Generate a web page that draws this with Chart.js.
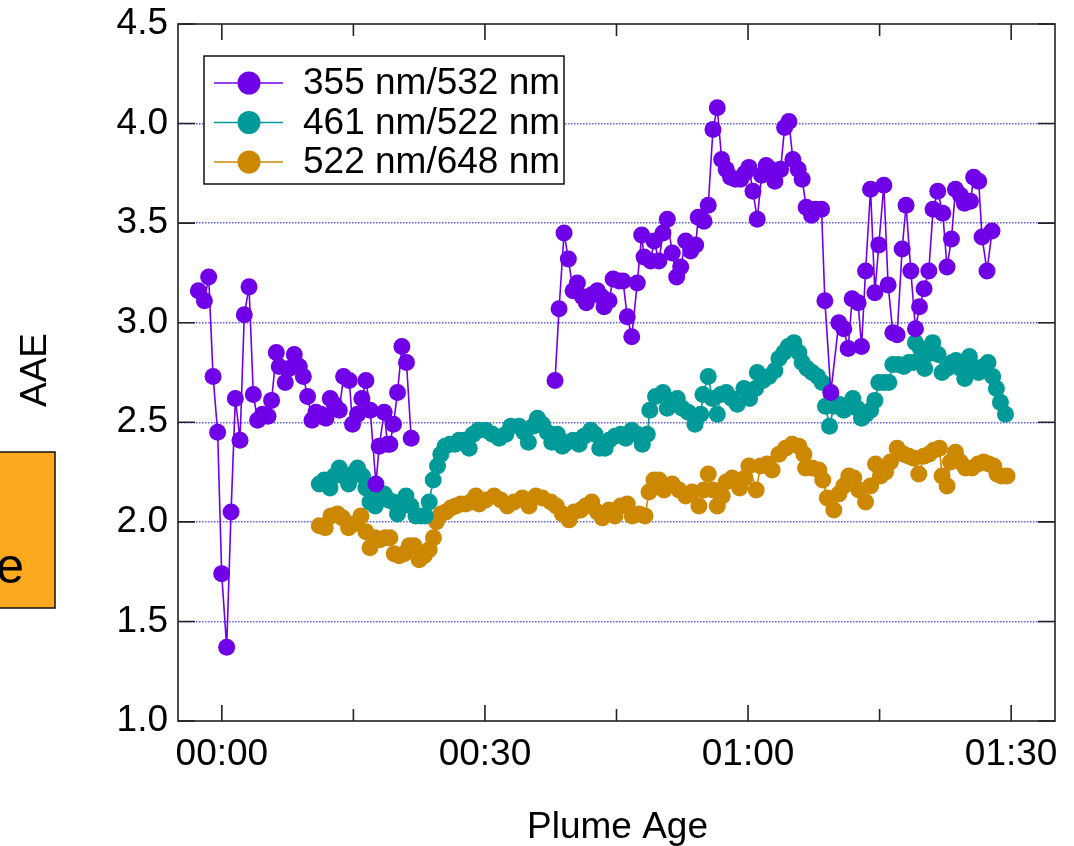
<!DOCTYPE html>
<html>
<head>
<meta charset="utf-8">
<title>AAE vs plume age</title>
<script src="https://cdn.jsdelivr.net/npm/chart.js@4.4.0/dist/chart.umd.min.js"></script>
<style>
  html, body { margin: 0; padding: 0; background: #fff; }
  #wrap { position: relative; width: 1074px; height: 846px; }
</style>
</head>
<body>
<div id="wrap"><canvas id="aaeChart" width="1074" height="846"></canvas></div>
<script>
// plume age in minutes, AAE per wavelength pair
const t355 = [-2.68,-1.99,-1.50,-1.00,-0.48,-0.02,0.55,1.05,1.54,2.07,2.56,3.10,3.59,4.08,4.65,5.26,5.67,6.21,6.55,7.23,
  7.69,8.26,8.83,9.29,9.78,10.28,10.73,11.30,11.87,12.36,12.82,13.39,13.88,14.53,14.90,15.47,15.97,16.43,16.92,17.57,
  17.94,18.51,18.89,19.16,19.57,20.03,20.53,21.05,21.59,
  37.99,38.45,39.02,39.51,40.05,40.54,41.11,41.56,42.18,42.82,43.32,43.58,44.15,44.61,45.29,45.74,46.23,46.74,47.37,47.87,
  48.14,48.90,49.28,49.84,50.30,50.79,51.36,51.86,52.32,52.89,53.46,54.03,54.32,54.97,55.46,56.00,56.49,56.99,57.51,58.01,
  58.58,59.15,59.64,60.10,60.56,61.05,61.55,62.07,62.57,63.06,63.71,64.17,64.66,65.11,65.72,66.17,66.63,67.24,67.70,68.38,
  68.76,69.44,70.35,70.92,71.41,71.87,72.55,72.94,73.40,73.97,74.46,74.91,75.48,75.97,76.51,77.00,77.57,78.02,78.56,79.09,
  79.55,80.07,80.61,81.10,81.63,82.20,82.69,83.19,83.65,84.22,84.68,85.36,85.73,86.30,86.68,87.25,87.82];
const aae355 = [3.16,3.11,3.23,2.73,2.45,1.74,1.37,2.05,2.62,2.41,3.04,3.18,2.64,2.51,2.54,2.53,2.61,2.85,2.78,2.70,
  2.77,2.84,2.78,2.73,2.63,2.51,2.55,2.54,2.52,2.62,2.59,2.56,2.73,2.71,2.49,2.54,2.62,2.71,2.56,2.19,
  2.38,2.55,2.39,2.39,2.49,2.65,2.88,2.80,2.42,
  2.71,3.07,3.45,3.32,3.16,3.20,3.13,3.10,3.14,3.16,3.13,3.08,3.11,3.22,3.21,3.21,3.03,2.93,3.20,3.44,
  3.33,3.31,3.41,3.31,3.45,3.52,3.35,3.23,3.28,3.41,3.36,3.39,3.53,3.51,3.59,3.97,4.08,3.82,3.77,3.73,
  3.72,3.72,3.75,3.78,3.66,3.52,3.74,3.79,3.77,3.71,3.77,3.98,4.01,3.82,3.77,3.72,3.58,3.54,3.57,3.57,
  3.11,2.65,3.00,2.97,2.87,3.12,3.10,2.88,3.26,3.67,3.15,3.39,3.69,3.19,2.95,2.94,3.37,3.59,3.26,2.97,
  3.08,3.17,3.26,3.57,3.66,3.55,3.28,3.42,3.67,3.64,3.60,3.61,3.73,3.71,3.43,3.26,3.46];

const t461 = [11.11,11.68,12.33,12.82,13.39,13.88,14.45,14.90,15.47,16.04,16.43,16.89,17.49,17.94,18.51,19.00,19.54,20.03,20.53,20.99,
  21.56,22.13,22.70,23.19,23.64,24.10,24.59,24.97,25.46,26.00,26.60,27.06,27.63,28.20,28.65,29.24,30.10,30.85,31.62,32.38,
  32.95,33.90,34.47,34.95,35.49,35.98,36.55,37.12,37.62,38.26,38.83,39.40,40.05,40.73,41.30,42.06,42.55,43.09,43.69,44.15,
  44.83,45.48,46.05,46.74,47.37,47.94,48.51,48.80,49.45,50.30,50.79,51.36,51.93,52.50,53.18,53.95,54.60,54.86,55.46,55.92,
  56.49,56.88,57.51,58.13,58.77,59.53,60.18,60.86,61.05,61.70,62.38,63.06,63.52,64.09,64.58,65.23,65.80,66.17,66.74,67.31,
  67.94,68.45,68.83,69.29,69.78,70.35,70.92,71.49,71.95,72.44,72.94,73.46,73.97,74.46,74.91,75.48,76.05,76.51,77.11,77.76,
  78.33,78.90,79.09,79.66,80.15,80.41,81.06,81.67,82.12,82.69,83.26,83.72,84.22,84.71,85.24,85.73,86.30,86.87,87.36,87.90,
  88.32,88.78,89.35];
const aae461 = [2.19,2.21,2.17,2.23,2.27,2.23,2.19,2.24,2.27,2.23,2.17,2.10,2.08,2.13,2.14,2.11,2.10,2.04,2.08,2.13,
  2.08,2.03,2.03,2.03,2.10,2.21,2.28,2.34,2.38,2.39,2.39,2.41,2.41,2.37,2.44,2.46,2.46,2.44,2.42,2.44,
  2.48,2.48,2.45,2.40,2.48,2.52,2.49,2.45,2.40,2.44,2.38,2.40,2.41,2.39,2.43,2.46,2.44,2.37,2.37,2.41,
  2.43,2.44,2.42,2.46,2.44,2.39,2.44,2.56,2.63,2.65,2.57,2.60,2.62,2.57,2.55,2.49,2.54,2.64,2.73,2.62,
  2.54,2.64,2.65,2.62,2.59,2.67,2.62,2.67,2.75,2.71,2.73,2.76,2.82,2.85,2.88,2.90,2.85,2.80,2.77,2.75,
  2.73,2.70,2.58,2.48,2.58,2.59,2.56,2.59,2.62,2.57,2.52,2.54,2.56,2.61,2.70,2.70,2.70,2.79,2.79,2.78,
  2.80,2.80,2.90,2.87,2.77,2.84,2.90,2.84,2.75,2.77,2.80,2.81,2.77,2.72,2.83,2.78,2.75,2.78,2.80,2.73,
  2.67,2.60,2.54];

const t522 = [11.11,11.79,12.44,13.19,13.76,14.45,15.10,15.86,16.43,16.89,17.49,18.02,18.63,19.16,19.65,20.22,20.79,21.36,21.93,22.50,
  23.07,23.64,24.13,24.47,24.97,25.54,26.11,26.68,27.25,27.82,28.39,28.96,29.34,30.10,31.05,31.81,32.56,33.33,34.27,35.03,
  35.80,36.55,37.51,38.14,38.83,39.59,40.16,40.93,41.49,42.18,42.82,43.39,44.15,44.83,45.48,46.23,46.80,47.57,48.25,48.71,
  49.28,49.84,50.42,51.36,52.13,52.89,53.64,54.40,54.97,55.46,56.00,56.49,57.06,57.51,58.20,59.04,59.64,60.10,60.93,61.43,
  62.18,62.75,63.52,64.28,65.03,65.80,66.37,66.56,67.31,68.07,68.52,69.04,69.78,70.35,70.92,71.49,72.06,72.63,73.40,73.97,
  74.54,75.11,75.68,76.24,77.00,77.76,78.33,78.90,79.47,80.04,80.61,81.18,81.83,82.12,82.69,83.08,83.65,84.22,84.79,85.54,
  86.23,86.87,87.44,88.01,88.39,88.89,89.53];
const aae522 = [1.98,1.97,2.03,2.04,2.02,1.97,1.99,2.03,1.95,1.87,1.92,1.91,1.92,1.92,1.84,1.83,1.84,1.88,1.88,1.81,
  1.83,1.86,1.92,2.00,2.04,2.05,2.07,2.08,2.09,2.09,2.10,2.13,2.09,2.11,2.13,2.11,2.08,2.10,2.12,2.08,
  2.13,2.12,2.10,2.08,2.04,2.01,2.05,2.06,2.08,2.10,2.05,2.02,2.06,2.03,2.08,2.09,2.03,2.04,2.03,2.15,
  2.21,2.21,2.16,2.19,2.16,2.13,2.15,2.08,2.16,2.24,2.16,2.08,2.13,2.20,2.22,2.17,2.22,2.28,2.16,2.28,
  2.29,2.26,2.34,2.37,2.39,2.38,2.34,2.27,2.27,2.26,2.21,2.12,2.06,2.14,2.18,2.23,2.22,2.16,2.10,2.18,
  2.29,2.23,2.25,2.30,2.37,2.34,2.33,2.32,2.24,2.33,2.34,2.36,2.37,2.23,2.18,2.30,2.35,2.30,2.27,2.27,
  2.29,2.30,2.29,2.28,2.24,2.23,2.23];

const seriesLabels = ['355 nm/532 nm', '461 nm/522 nm', '522 nm/648 nm'];
const seriesColors = ['#7000e8', '#009b98', '#cc8800'];
const xTickMinutes = [0, 15, 30, 45, 60, 75, 90];
const yTicks = [1.0, 1.5, 2.0, 2.5, 3.0, 3.5, 4.0, 4.5];

const FONT = '"Liberation Sans", Arial, sans-serif';

function hhmm(min) {
  const h = Math.floor(min / 60), m = Math.round(min % 60);
  return String(h).padStart(2, '0') + ':' + String(m).padStart(2, '0');
}

function points(ts, vs) {
  return ts.map((t, i) => ({ x: t, y: vs[i] }));
}

function makeSet(i, ts, vs) {
  return {
    label: seriesLabels[i],
    data: points(ts, vs),
    borderColor: seriesColors[i],
    backgroundColor: seriesColors[i],
    borderWidth: 1.6,
    pointRadius: 8.5,
    pointBorderWidth: 0,
    pointBackgroundColor: seriesColors[i],
    tension: 0,
    // no line across the long break in the record
    segment: {
      borderColor: ctx => (ctx.p1.parsed.x - ctx.p0.parsed.x > 5 ? 'rgba(0,0,0,0)' : undefined)
    }
  };
}

// frame, inward tick marks, axis titles, legend box and side label
const decorations = {
  id: 'decorations',
  beforeDraw(chart) {
    const ctx = chart.ctx;
    ctx.save();
    ctx.fillStyle = '#fca91f';
    ctx.strokeStyle = '#111';
    ctx.lineWidth = 1.5;
    ctx.fillRect(-4, 452, 59, 156);
    ctx.strokeRect(-4, 452, 59, 156);
    ctx.fillStyle = '#000';
    ctx.font = '50px ' + FONT;
    ctx.textAlign = 'right';
    ctx.textBaseline = 'alphabetic';
    ctx.fillText('e', 24, 583);
    ctx.restore();
  },
  afterDraw(chart) {
    const { ctx, chartArea: a, scales } = chart;
    ctx.save();
    ctx.strokeStyle = '#222';
    ctx.lineWidth = 1.6;
    ctx.strokeRect(a.left, a.top, a.right - a.left, a.bottom - a.top);

    ctx.beginPath();
    yTicks.forEach(v => {
      const y = scales.y.getPixelForValue(v);
      ctx.moveTo(a.left, y); ctx.lineTo(a.left + 17, y);
      ctx.moveTo(a.right, y); ctx.lineTo(a.right - 17, y);
    });
    xTickMinutes.forEach(v => {
      const x = scales.x.getPixelForValue(v);
      const len = v % 30 === 0 ? 16 : 12;
      ctx.moveTo(x, a.bottom); ctx.lineTo(x, a.bottom - len);
      ctx.moveTo(x, a.top); ctx.lineTo(x, a.top + len);
    });
    ctx.stroke();

    // axis titles
    ctx.fillStyle = '#000';
    ctx.font = '37px ' + FONT;
    ctx.textAlign = 'center';
    ctx.textBaseline = 'middle';
    ctx.fillText('Plume Age', (a.left + a.right) / 2 + 1, 828);
    ctx.save();
    ctx.translate(36, 370);
    ctx.rotate(-Math.PI / 2);
    ctx.fillText('AAE', 0, 0);
    ctx.restore();

    // legend
    const lx = 204, ly = 56, lw = 360, lh = 128;
    ctx.fillStyle = '#fff';
    ctx.fillRect(lx, ly, lw, lh);
    ctx.strokeStyle = '#111';
    ctx.lineWidth = 1.5;
    ctx.strokeRect(lx, ly, lw, lh);
    ctx.font = '37px ' + FONT;
    ctx.textAlign = 'left';
    chart.data.datasets.forEach((ds, i) => {
      const cy = 83 + i * 39.5;
      ctx.strokeStyle = ds.borderColor;
      ctx.lineWidth = 1.6;
      ctx.beginPath();
      ctx.moveTo(214, cy); ctx.lineTo(283, cy);
      ctx.stroke();
      ctx.fillStyle = ds.borderColor;
      ctx.beginPath();
      ctx.arc(249, cy, 11.5, 0, Math.PI * 2);
      ctx.fill();
      ctx.fillStyle = '#000';
      ctx.fillText(ds.label, 303, cy + 1);
    });
    ctx.restore();
  }
};

new Chart(document.getElementById('aaeChart'), {
  type: 'line',
  data: {
    datasets: [
      makeSet(0, t355, aae355),
      makeSet(1, t461, aae461),
      makeSet(2, t522, aae522)
    ]
  },
  options: {
    responsive: false,
    animation: false,
    devicePixelRatio: 1,
    layout: { padding: { top: 24, right: 19, left: 0, bottom: 0 } },
    plugins: { legend: { display: false }, tooltip: { enabled: false } },
    scales: {
      x: {
        type: 'linear',
        min: -5,
        max: 95,
        afterFit: s => { s.height = 125; s.paddingLeft = 0; s.paddingRight = 0; },
        afterBuildTicks: s => { s.ticks = xTickMinutes.map(v => ({ value: v })); },
        grid: { display: false, drawTicks: false },
        border: { display: false },
        ticks: {
          padding: 12,
          maxRotation: 0,
          autoSkip: false,
          color: '#000',
          font: { family: FONT, size: 37 },
          callback: v => (v % 30 === 0 ? hhmm(v) : '')
        }
      },
      y: {
        min: 1,
        max: 4.5,
        afterFit: s => { s.width = 178; s.paddingTop = 0; s.paddingBottom = 0; },
        afterBuildTicks: s => { s.ticks = yTicks.map(v => ({ value: v })); },
        grid: {
          drawTicks: false,
          lineWidth: 1.4,
          color: c => (c.tick.value > 1 && c.tick.value < 4.5 ? 'rgba(85,85,255,0.95)' : 'rgba(0,0,0,0)')
        },
        border: { display: false, dash: [1.5, 1.5] },
        ticks: {
          padding: 10,
          color: '#000',
          font: { family: FONT, size: 37 },
          callback: v => v.toFixed(1)
        }
      }
    }
  },
  plugins: [decorations]
});
</script>
</body>
</html>
